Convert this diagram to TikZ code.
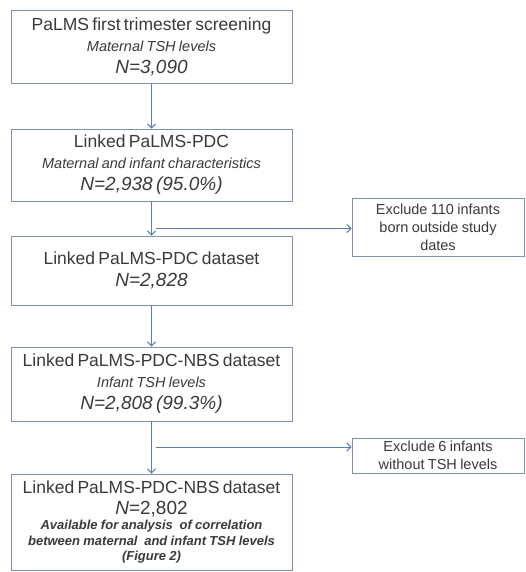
\documentclass[tikz,border=0pt]{standalone}
\usepackage{fontspec}
\setmainfont{Liberation Sans}
\usetikzlibrary{arrows.meta}
\definecolor{boxline}{HTML}{7F90B0}
\definecolor{arrline}{HTML}{5B7DB1}
\definecolor{txt}{HTML}{3A3A3A}
\newcommand{\ttl}[1]{{\fontsize{17.5}{21}\selectfont #1\par}}
\newcommand{\sub}[1]{{\fontsize{14.5}{21}\selectfont\itshape #1\par}}
\newcommand{\num}[1]{{\fontsize{19}{22}\selectfont\itshape #1\par}}
\newcommand{\exl}[1]{{\fontsize{14.5}{18}\selectfont #1\par}}
\tikzset{
  mainbox/.style={draw=boxline, line width=0.9pt, rectangle, inner sep=0pt,
    minimum width=281pt, text width=279pt, align=center, text=txt},
  exbox/.style={draw=boxline, line width=0.9pt, rectangle, inner sep=0pt,
    minimum width=172pt, text width=170pt, align=center, text=txt},
  arr/.style={draw=arrline, line width=1pt, -{Straight Barb[length=4pt,width=8pt]}}
}
\begin{document}
\begin{tikzpicture}[x=1pt,y=-1pt]
\useasboundingbox[fill=white] (0,0) rectangle (526,572);
\node[mainbox, minimum height=73pt] (b1) at (151.5,46.5)
  {\ttl{PaLMS first trimester screening}\sub{Maternal TSH levels}\num{N=3,090}};
\node[mainbox, minimum height=72pt] (b2) at (151.5,165)
  {\ttl{Linked PaLMS-PDC}\sub{Maternal and infant characteristics}\num{N=2,938 (95.0\%)}};
\node[mainbox, minimum height=69pt] (b3) at (151.5,270.5)
  {\ttl{Linked PaLMS-PDC dataset}\num{N=2,828}};
\node[mainbox, minimum height=74pt] (b4) at (151.5,384)
  {\ttl{Linked PaLMS-PDC-NBS dataset}\sub{Infant TSH levels}\num{N=2,808 (99.3\%)}};
\node[mainbox, minimum height=96pt] (b5) at (151.5,522)
  {\ttl{Linked PaLMS-PDC-NBS dataset}{\fontsize{19}{21}\selectfont\textit{N}=2,802\par}{\fontsize{13}{15.5}\selectfont\bfseries\itshape Available for analysis \ of correlation\par between maternal \ and infant TSH levels\par (Figure 2)\par}};
\node[exbox, minimum height=58pt] (x1) at (438,227)
  {\exl{Exclude 110 infants}\exl{born outside study}\exl{dates}};
\node[exbox, minimum height=35pt] (x2) at (438,455.5)
  {\exl{Exclude 6 infants}\exl{without TSH levels}};
\draw[arr] (b1.south) -- (b2.north);
\draw[arr] (b2.south) -- (b3.north);
\draw[arr] (b3.south) -- (b4.north);
\draw[arr] (b4.south) -- (b5.north);
\coordinate (h1) at (156,228.5);
\coordinate (h2) at (156,447);
\draw[arr] (h1) -- (h1 -| x1.west);
\draw[arr] (h2) -- (h2 -| x2.west);
\end{tikzpicture}
\end{document}
